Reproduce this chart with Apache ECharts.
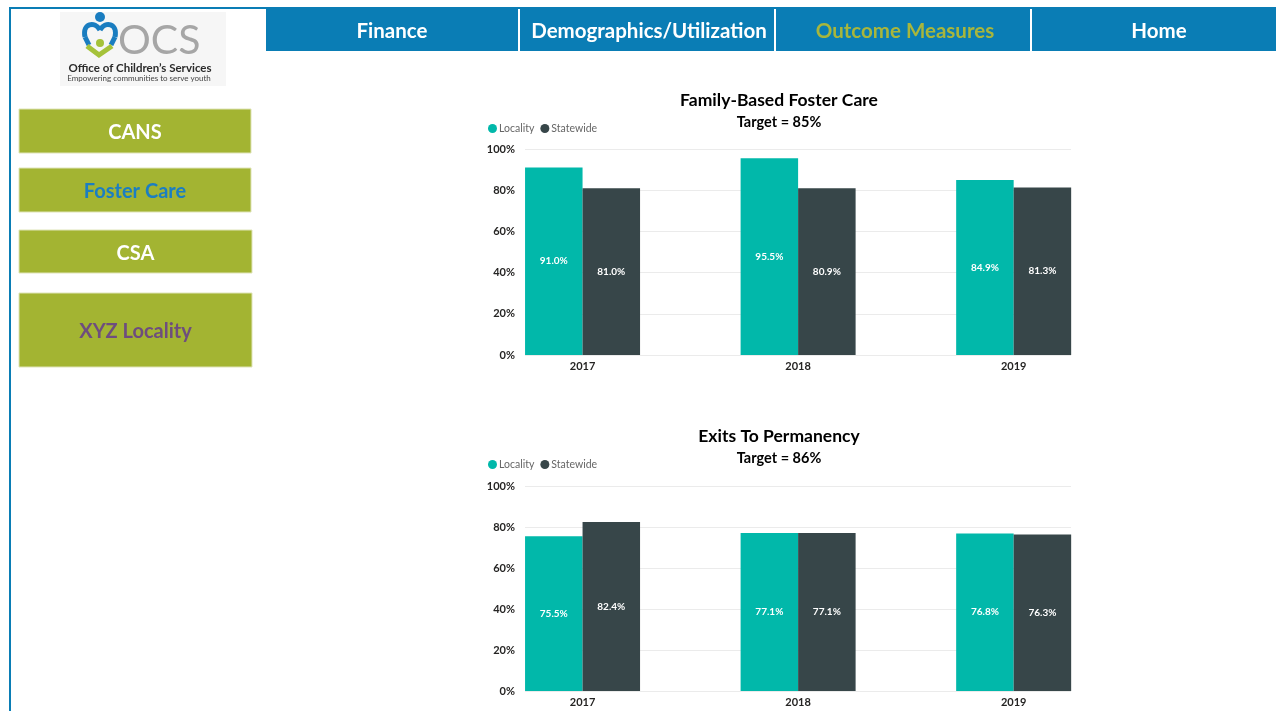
<!DOCTYPE html>
<html><head><meta charset="utf-8">
<script src="https://cdn.jsdelivr.net/npm/echarts@6/dist/echarts.min.js"></script>
<style>html,body{margin:0;padding:0;background:#fff;}#c{width:1276px;height:711px;}</style>
</head><body><div id="c"></div>
<script>
// ---- data ----
const years = [2017, 2018, 2019];
const yTicks = [0, 20, 40, 60, 80, 100];
const chart1Title = 'Family-Based Foster Care';
const chart1Target = 'Target = 85%';
const chart1Locality = [91.0, 95.5, 84.9];
const chart1Statewide = [81.0, 80.9, 81.3];
const chart2Title = 'Exits To Permanency';
const chart2Target = 'Target = 86%';
const chart2Locality = [75.5, 77.1, 76.8];
const chart2Statewide = [82.4, 77.1, 76.3];
const seriesNames = ['Locality', 'Statewide'];
const navItems = ['Finance', 'Demographics/Utilization', 'Outcome Measures', 'Home'];
const sideButtons = ['CANS', 'Foster Care', 'CSA', 'XYZ Locality'];

const TEAL = '#01B8AA', DARK = '#374649', BLUE = '#0A7DB5', OLIVE = '#A3B432';
const FONT = 'Lato, "Open Sans", sans-serif';

const chart = echarts.init(document.getElementById('c'), null, {renderer: 'canvas'});

function pairs(vals) { return years.map((y, i) => [y, vals[i]]); }

const grids = [
  {left: 525, top: 149, width: 546, height: 206},
  {left: 525, top: 486, width: 546, height: 205}
];
const xMin = 2016.733, xMax = 2019.266;

function xAxis(gi) {
  return {
    type: 'value', gridIndex: gi, min: xMin, max: xMax,
    axisLine: {show: false}, axisTick: {show: false}, splitLine: {show: false},
    axisLabel: {customValues: years, formatter: v => String(Math.round(v)),
      fontFamily: FONT, fontWeight: 'bold', fontSize: 11, color: '#252423', margin: 6}
  };
}
function yAxis(gi) {
  return {
    type: 'value', gridIndex: gi, min: 0, max: 100, interval: 20,
    axisLine: {show: false}, axisTick: {show: false},
    splitLine: {lineStyle: {color: '#ebebeb', width: 1}},
    axisLabel: {formatter: '{value}%', fontFamily: FONT, fontWeight: 'bold', fontSize: 11, color: '#252423', margin: 10}
  };
}
function bar(name, vals, gi, color) {
  return {
    type: 'bar', name: name, xAxisIndex: gi, yAxisIndex: gi,
    data: pairs(vals), barWidth: 57.5, barGap: '0%',
    itemStyle: {color: color},
    label: {show: true, position: 'inside', formatter: p => p.value[1].toFixed(1) + '%',
      color: '#fff', fontFamily: FONT, fontWeight: 'bold', fontSize: 10},
    emphasis: {disabled: true}
  };
}

const graphics = [];
// frame
graphics.push({type: 'rect', shape: {x: 9, y: 7, width: 2, height: 704}, style: {fill: BLUE}});
graphics.push({type: 'rect', shape: {x: 9, y: 7, width: 258, height: 2}, style: {fill: BLUE}});
// nav
graphics.push({type: 'rect', shape: {x: 266, y: 7, width: 1010, height: 44}, style: {fill: BLUE}});
const navCenters = [392, 649, 905, 1159];
[518, 774, 1030].forEach(x => graphics.push({type: 'rect', shape: {x: x, y: 9, width: 2, height: 42}, style: {fill: '#fff'}}));
navItems.forEach((t, i) => graphics.push({type: 'text', x: navCenters[i], y: 31,
  style: {text: t, fill: i === 2 ? '#A8B63C' : '#fff', font: 'bold 20.5px ' + FONT, align: 'center', verticalAlign: 'middle'}}));
// side buttons
const btnBoxes = [[19, 109, 232, 44], [19, 168, 232, 44], [19, 230, 233, 43], [19, 293, 233, 74]];
const btnColors = ['#fff', '#1B7EC2', '#fff', '#6E4D7E'];
sideButtons.forEach((t, i) => {
  const b = btnBoxes[i];
  graphics.push({type: 'rect', shape: {x: b[0], y: b[1], width: b[2], height: b[3]}, style: {fill: OLIVE, stroke: '#dfe4b8', lineWidth: 1}});
  graphics.push({type: 'text', x: b[0] + b[2] / 2, y: b[1] + b[3] / 2 + 2,
    style: {text: t, fill: btnColors[i], font: 'bold 20px ' + FONT, align: 'center', verticalAlign: 'middle'}});
});
// logo
graphics.push({type: 'rect', shape: {x: 60, y: 12, width: 166, height: 74}, style: {fill: '#f6f6f6'}});
const heartStyle = {fill: 'none', stroke: '#1A7DC0', lineWidth: 5};
graphics.push({type: 'bezierCurve', shape: {x1: 100, y1: 30, cpx1: 95, cpy1: 21, cpx2: 82, cpy2: 23, x2: 85, y2: 37}, style: heartStyle});
graphics.push({type: 'bezierCurve', shape: {x1: 100, y1: 30, cpx1: 105, cpy1: 21, cpx2: 118, cpy2: 23, x2: 115, y2: 37}, style: heartStyle});
graphics.push({type: 'line', shape: {x1: 85, y1: 37, x2: 89, y2: 45}, style: heartStyle});
graphics.push({type: 'line', shape: {x1: 115, y1: 37, x2: 111, y2: 45}, style: heartStyle});
graphics.push({type: 'circle', shape: {cx: 100, cy: 17, r: 5}, style: {fill: '#1A7DC0'}});
graphics.push({type: 'polyline', shape: {points: [[87, 46], [99, 55], [112, 46]]}, style: {stroke: '#A5C23A', lineWidth: 5, fill: 'none'}});
graphics.push({type: 'circle', shape: {cx: 100, cy: 43, r: 4}, style: {fill: '#A5C23A'}});
graphics.push({type: 'text', x: 118, y: 41, style: {text: 'OCS', fill: '#a6a6a6', font: '41px ' + FONT, verticalAlign: 'middle'}});
graphics.push({type: 'text', x: 140, y: 68, style: {text: 'Office of Children\u2019s Services', fill: '#2b2b2b', font: 'bold 11.5px ' + FONT, align: 'center', verticalAlign: 'middle'}});
graphics.push({type: 'text', x: 139, y: 78, style: {text: 'Empowering communities to serve youth', fill: '#444', font: '8px ' + FONT, align: 'center', verticalAlign: 'middle'}});

const titleCommon = {left: 779, textAlign: 'center', itemGap: 6, padding: 0,
  textStyle: {fontFamily: FONT, fontWeight: 'bold', fontSize: 17.5, color: '#000'},
  subtextStyle: {fontFamily: FONT, fontWeight: 'bold', fontSize: 14.5, color: '#000'}};
const legendCommon = {data: seriesNames, left: 488, icon: 'circle', itemWidth: 9, itemHeight: 9, itemGap: 6, padding: 0,
  textStyle: {fontFamily: FONT, fontSize: 10.5, color: '#666', padding: [0, 0, 0, -3]}, selectedMode: false};

const option = {
  backgroundColor: '#fff',
  animation: false,
  textStyle: {fontFamily: FONT},
  title: [
    Object.assign({text: chart1Title, subtext: chart1Target, top: 91}, titleCommon),
    Object.assign({text: chart2Title, subtext: chart2Target, top: 427}, titleCommon)
  ],
  legend: [
    Object.assign({top: 123}, legendCommon),
    Object.assign({top: 459}, legendCommon)
  ],
  grid: grids,
  xAxis: [xAxis(0), xAxis(1)],
  yAxis: [yAxis(0), yAxis(1)],
  series: [
    bar(seriesNames[0], chart1Locality, 0, TEAL),
    bar(seriesNames[1], chart1Statewide, 0, DARK),
    bar(seriesNames[0], chart2Locality, 1, TEAL),
    bar(seriesNames[1], chart2Statewide, 1, DARK)
  ],
  graphic: graphics
};
chart.setOption(option);
</script>
</body></html>
